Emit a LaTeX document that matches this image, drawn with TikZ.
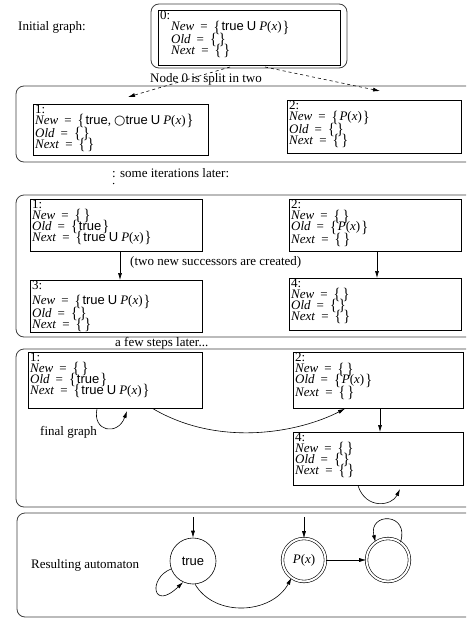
\documentclass[tikz,border=0pt]{standalone}
\usepackage{fontspec}
\setmainfont{Liberation Serif}
\setsansfont{Liberation Sans}
\newfontfamily\dejavu{DejaVu Sans}
\usetikzlibrary{arrows.meta}
\newcommand{\lNew}{\textit{New}}
\newcommand{\lOld}{\textit{Old}}
\newcommand{\lNext}{\textit{Next}}
\newcommand{\lTr}{\textsf{true}}
\newcommand{\lUntil}{\hspace{3pt}\textsf{U}\hspace{3pt}}
\newcommand{\lPx}{\textit{P}(\textit{x})}
\newcommand{\lBr}[1]{\smash{\raisebox{-1.2pt}{\scalebox{1.1}[1.25]{#1}}}}
\newcommand{\lL}{\lBr{\{}\hspace{1pt}}
\newcommand{\lR}{\hspace{1pt}\lBr{\}}}
\newcommand{\lE}{\lBr{\{}\hspace{2pt}\lBr{\}}}
\newcommand{\lEq}{\hspace{6pt}=\hspace{6pt}}
\tikzset{
  panel/.style={draw=black!75, line width=0.8pt, rounded corners=8pt},
  box/.style={draw, line width=0.7pt, inner sep=0pt, anchor=north west},
  txt/.style={anchor=north west, align=left, inner sep=0pt, font=\fontsize{13}{11}\selectfont},
  lbl/.style={inner sep=0pt, font=\fontsize{13}{13}\selectfont},
  arr/.style={-{Latex[length=7pt,width=4pt]}, line width=0.6pt},
  darr/.style={arr, dashed},
  state/.style={circle, draw, line width=0.6pt, minimum size=46pt, inner sep=0pt, font=\fontsize{13}{13}\selectfont},
  acc/.style={state, double, double distance=2pt, minimum size=43pt}
}
\begin{document}
\begin{tikzpicture}[x=1pt,y=-1pt]
\useasboundingbox (0,0) rectangle (466,621);
\clip (0,0) rectangle (466,621);
\fill[white] (0,0) rectangle (466,621);

% panel 0
\draw[panel] (151,4) rectangle (347,68);
\node[lbl, anchor=west] (initlbl) at (18,27) {Initial graph:};
\node[box, minimum width=182pt, minimum height=55pt] (b0) at (158,10) {};
\node[txt] (t0) at (160,11) {0:\\\hspace{11pt}\lNew\lEq\lL\lTr\lUntil\lPx\lR\\\hspace{11pt}\lOld\lEq\lE\\\hspace{11pt}\lNext\lEq\lE};

% split arrows
\coordinate (s0l) at (230,67);
\coordinate (s0r) at (265,67);
\coordinate (e1l) at (128,97);
\coordinate (e1r) at (380,91);
\draw[darr] (s0l) -- (e1l);
\draw[darr] (s0r) -- (e1r);
\node[lbl] (splitlbl) at (206,79) {Node 0 is split in two};

% panel 1
\draw[panel] (16,86) rectangle (490,162);
\node[box, minimum width=175pt, minimum height=51pt] (p1b1) at (33,104) {};
\node[txt] (p1t1) at (35,105) {1:\\\lNew\lEq\lL\lTr,\hspace{3pt}{\dejavu ○}\lTr\lUntil\lPx\lR\\\lOld\lEq\lE\\\lNext\lEq\lE};
\node[box, minimum width=174pt, minimum height=53pt] (p1b2) at (287,100) {};
\node[txt] (p1t2) at (289,101) {2:\\\lNew\lEq\lL\lPx\lR\\\lOld\lEq\lE\\\lNext\lEq\lE};

\node[lbl, anchor=base west] (iterlbl) at (112,177) {: some iterations later:};
\fill (113.6,183.5) circle (0.75pt);

% panel 2
\draw[panel] (16,195) rectangle (490,337);
\node[box, minimum width=172pt, minimum height=52pt] (p2b1) at (30,199) {};
\node[txt] (p2t1) at (32,200) {1:\\\lNew\lEq\lE\\\lOld\lEq\lL\lTr\lR\\\lNext\lEq\lL\lTr\lUntil\lPx\lR};
\node[box, minimum width=172pt, minimum height=52pt] (p2b2) at (289,199) {};
\node[txt] (p2t2) at (291,200) {2:\\\lNew\lEq\lE\\\lOld\lEq\lL\lPx\lR\\\lNext\lEq\lE};
\node[box, minimum width=172pt, minimum height=52pt] (p2b3) at (30,280) {};
\node[txt] (p2t3) at (32,281) {3:\\[4pt]\lNew\lEq\lL\lTr\lUntil\lPx\lR\\\lOld\lEq\lE\\\lNext\lEq\lE};
\node[box, minimum width=172pt, minimum height=52pt] (p2b4) at (289,278) {};
\node[txt] (p2t4) at (291,279) {4:\\\lNew\lEq\lE\\\lOld\lEq\lE\\\lNext\lEq\lE};
\draw[arr] (p2b1.south -| 120,0) -- (p2b3.north -| 120,0);
\draw[arr] (p2b2.south -| 377,0) -- (p2b4.north -| 377,0);
\node[lbl, anchor=base west] (succlbl) at (130,265) {(two new successors are created)};

\node[lbl, anchor=base west] (fewlbl) at (115,346) {a few steps later...};

% panel 3
\draw[panel] (16,349) rectangle (490,507);
\node[box, minimum width=174pt, minimum height=56pt] (p3b1) at (28,352) {};
\node[txt] (p3t1) at (30,353) {1:\\\lNew\lEq\lE\\\lOld\lEq\lL\lTr\lR\\\lNext\lEq\lL\lTr\lUntil\lPx\lR};
\node[box, minimum width=170pt, minimum height=56pt] (p3b2) at (293,352) {};
\node[txt] (p3t2) at (295,353) {2:\\\lNew\lEq\lE\\\lOld\lEq\lL\lPx\lR\\\lNext\lEq\lE};
\node[box, minimum width=170pt, minimum height=53pt] (p3b4) at (293,432) {};
\node[txt] (p3t4) at (295,433) {4:\\\lNew\lEq\lE\\\lOld\lEq\lE\\\lNext\lEq\lE};
\draw[arr] (p3b1.south -| 97,0) .. controls (92,432) and (118,436) .. (127,411);
\draw[arr] (p3b1.south -| 153,0) .. controls (220,448) and (300,432) .. (p3b2.south -| 345,0);
\draw[arr] (p3b2.south -| 380,0) -- (p3b4.north -| 380,0);
\draw[arr] (p3b4.south -| 358,0) .. controls (366,510) and (392,506) .. (400,489);
\node[lbl, anchor=base west] (finallbl) at (40,435) {final graph};

% panel 4
\draw[panel] (17,513) rectangle (490,617);
\node[lbl, anchor=west] (reslbl) at (31,565) {Resulting automaton};
\node[state] (qt) at (193,561) {\lTr};
\node[acc] (qp) at (304,560) {\lPx};
\node[acc] (qf) at (388,560) {};
\coordinate (it) at (193,517);
\coordinate (ip) at (304,517);
\draw[arr] (it) -- (qt.north);
\draw[arr] (ip) -- (qp.north);
\draw[arr] (qt.200) .. controls (148,578) and (152,612) .. (qt.245);
\draw[arr] (qt.275) .. controls (215,618) and (272,614) .. (qp.235);
\draw[arr] (qp.east) -- (qf.west);
\draw[arr] (qf.55) .. controls (410,512) and (368,512) .. (qf.125);
\end{tikzpicture}
\end{document}
